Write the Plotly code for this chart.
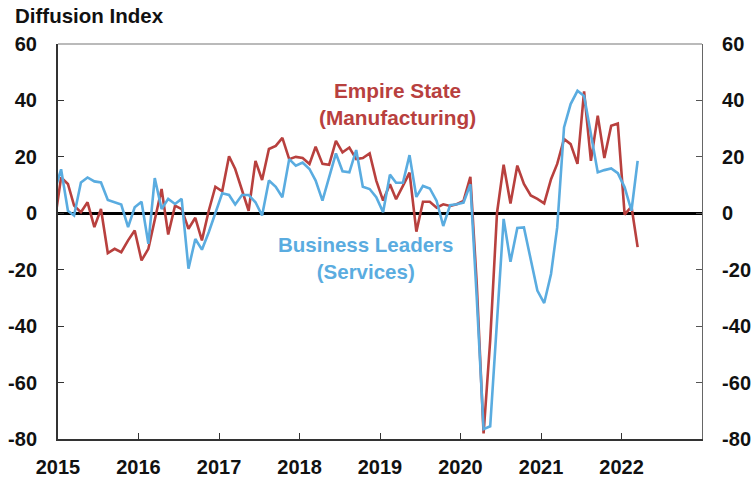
import pandas as pd
import plotly.graph_objects as go

# Monthly observations, Dec 2014 .. Mar 2022 (plotted mid-month)
months = pd.date_range("2014-12-01", "2022-03-01", freq="MS") + pd.Timedelta(days=14)

empire_state = [
    -4,
    12.7, 10.4, 2.7, 0.4, 3.9, -4.9, 1.5, -14.1, -12.6, -13.8, -9.6, -6.1,
    -16.7, -12.6, -2.0, 8.6, -7.5, 2.7, 1.5, -5.5, -1.6, -9.6, 0.9, 9.4,
    7.8, 20.2, 15.7, 8.0, 0.9, 18.6, 11.8, 22.8, 23.9, 26.7, 19.2, 20.0,
    19.6, 17.5, 23.6, 17.5, 17.2, 25.7, 21.6, 23.3, 19.2, 19.6, 21.2, 11.6,
    4.5, 10.3, 5.0, 9.7, 14.4, -6.5, 4.1, 4.1, 2.0, 3.2, 2.6, 3.2,
    4.4, 12.9, -25.0, -78.0, -45.0, 0.2, 17.2, 3.5, 16.9, 10.4, 6.3, 5.1,
    3.5, 12.1, 17.5, 26.3, 24.5, 17.5, 43.2, 18.6, 34.6, 19.6, 31.0, 31.8,
    -0.5, 2.4, -12.0,
]

business_leaders = [
    7.5,
    15.6, 0.9, -0.8, 10.9, 12.7, 11.3, 10.9, 4.7, 3.9, 3.1, -4.9, 2.1,
    4.1, -10.8, 12.5, 1.5, 5.1, 3.3, 5.1, -19.6, -9.1, -12.9, -6.7, -0.2,
    7.1, 6.5, 3.1, 6.5, 6.5, 3.9, -0.8, 11.6, 9.4, 5.7, 19.2, 16.9,
    18.0, 15.7, 11.6, 4.5, 13.0, 21.2, 14.9, 14.5, 22.4, 9.4, 8.6, 5.7,
    0.4, 13.7, 10.8, 10.8, 20.6, 5.8, 9.7, 8.8, 4.4, -4.5, 2.9, 3.2,
    3.8, 10.3, -30.0, -76.5, -75.5, -38.0, -2.0, -17.2, -5.2, -5.0, -16.0, -27.4,
    -31.8, -21.5, -5.0, 30.4, 38.7, 43.4, 41.6, 28.1, 14.5, 15.3, 15.9, 14.2,
    9.2, 0.9, 18.6,
]

year_ticks = [f"{y}-01-01" for y in range(2015, 2023)]
year_labels = [str(y) for y in range(2015, 2023)]
y_ticks = [60, 40, 20, 0, -20, -40, -60, -80]
y_labels = ["60", "40", "20", "0", "-20", "-40", "-60", "-80"]

RED = "#B8403E"
BLUE = "#5AACE0"
FONT = "Liberation Sans, Arial, sans-serif"

fig = go.Figure()
fig.add_trace(go.Scatter(x=months, y=empire_state, mode="lines",
                         line=dict(color=RED, width=2.6), yaxis="y",
                         name="Empire State (Manufacturing)"))
fig.add_trace(go.Scatter(x=months, y=business_leaders, mode="lines",
                         line=dict(color=BLUE, width=2.6), yaxis="y2",
                         name="Business Leaders (Services)"))

tickfont = dict(family=FONT, size=20, color="#111", weight="bold")

fig.update_layout(
    width=754, height=478,
    margin=dict(l=58, r=52, t=44, b=39, autoexpand=False),
    paper_bgcolor="white", plot_bgcolor="white",
    showlegend=False,
    xaxis=dict(
        type="date", range=["2015-01-01", "2023-01-01"],
        tickvals=year_ticks, ticktext=year_labels,
        ticks="inside", ticklen=6, tickwidth=1, tickcolor="#333",
        showline=True, linecolor="#333", linewidth=2,
        showgrid=False, zeroline=False, automargin=False,
        tickfont=tickfont, ticklabelstandoff=9,
    ),
    yaxis=dict(
        range=[-80, 60], tickvals=y_ticks, ticktext=y_labels,
        ticks="inside", ticklen=6, tickwidth=1, tickcolor="#333",
        showline=True, linecolor="#333", linewidth=2,
        showgrid=False, automargin=False,
        zeroline=True, zerolinecolor="#000", zerolinewidth=2.5,
        tickfont=tickfont, ticklabelstandoff=15,
    ),
    yaxis2=dict(
        range=[-80, 60], tickvals=y_ticks, ticktext=y_labels,
        overlaying="y", side="right",
        ticks="inside", ticklen=6, tickwidth=1, tickcolor="#555",
        showline=True, linecolor="#666", linewidth=1.2,
        showgrid=False, zeroline=False, automargin=False,
        tickfont=tickfont, ticklabelstandoff=15,
    ),
    shapes=[dict(type="line", xref="paper", yref="paper", x0=0, x1=1, y0=1, y1=1,
                 line=dict(color="#777", width=1.2))],
    annotations=[
        dict(text="Diffusion Index", xref="paper", yref="paper",
             x=-0.07, y=1.072, xanchor="left", yanchor="middle", showarrow=False,
             font=dict(family=FONT, size=20.5, color="#111", weight="bold")),
        dict(text="Empire State<br>(Manufacturing)", xref="x", yref="y",
             x="2019-03-20", y=38.6, xanchor="center", yanchor="middle",
             showarrow=False, align="center",
             font=dict(family=FONT, size=20.8, color=RED, weight="bold")),
        dict(text="Business Leaders<br>(Services)", xref="x", yref="y",
             x="2018-10-28", y=-16, xanchor="center", yanchor="middle",
             showarrow=False, align="center",
             font=dict(family=FONT, size=20.5, color=BLUE, weight="bold")),
    ],
)

fig.write_html("out.html", config={"displayModeBar": False},
               post_script="document.body.style.margin='0';")
